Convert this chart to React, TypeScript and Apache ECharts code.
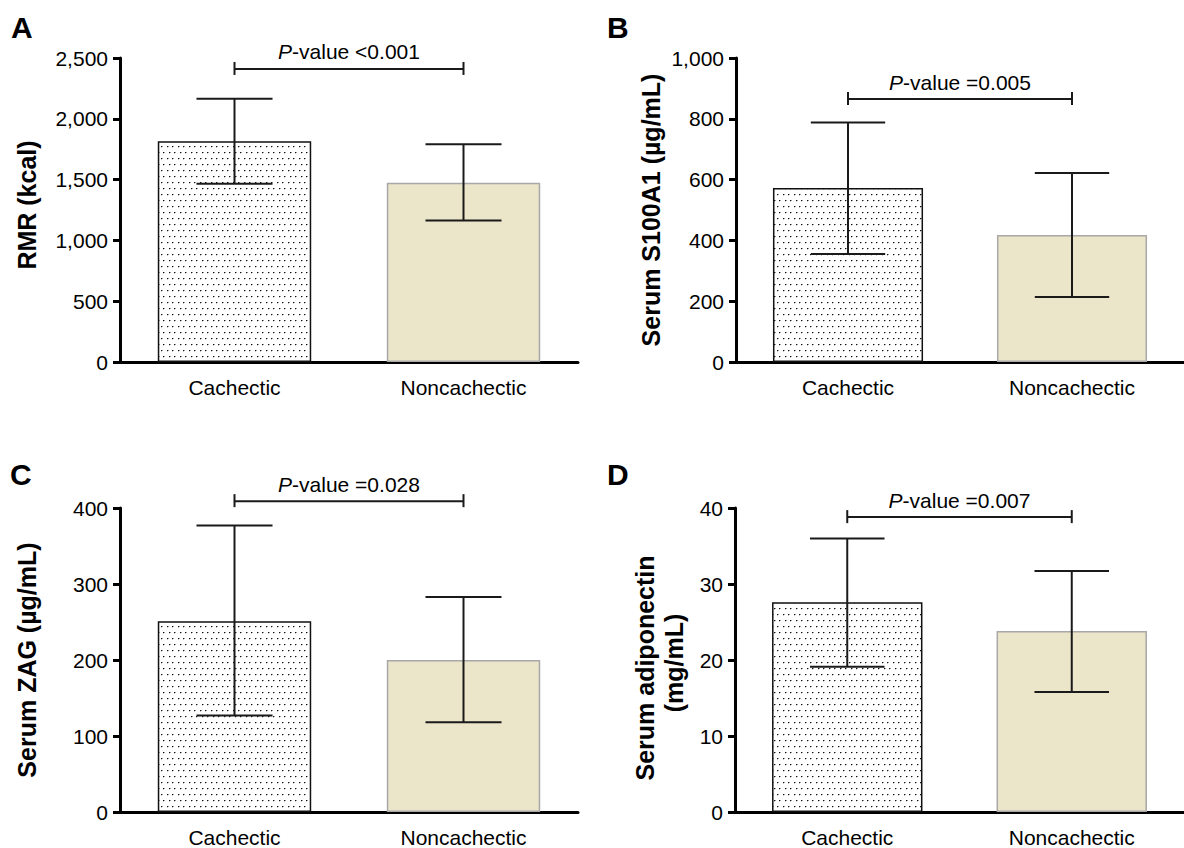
import React, { useEffect, useRef } from "react";
import * as echarts from "echarts";

const categories = ["Cachectic", "Noncachectic"];

const rmrMean = [1815, 1475];
const rmrLow = [1465, 1163];
const rmrHigh = [2165, 1790];

const s100Mean = [572, 418];
const s100Low = [355, 214];
const s100High = [788, 622];

const zagMean = [251, 200];
const zagLow = [127, 118];
const zagHigh = [377, 283];

const adipoMean = [27.6, 23.8];
const adipoLow = [19.1, 15.8];
const adipoHigh = [36.0, 31.7];

const pTexts = ["<0.001", "=0.005", "=0.028", "=0.007"];
const bracketValues = [2410, 865, 409, 38.8];

const yMaxes = [2500, 1000, 400, 40];
const yIntervals = [500, 200, 100, 10];
const panelLetters = ["A", "B", "C", "D"];

const FONT = "'Liberation Sans', Arial, Helvetica, sans-serif";

function makePattern(): HTMLCanvasElement {
  const c = document.createElement("canvas");
  c.width = 11;
  c.height = 12;
  const ctx = c.getContext("2d")!;
  ctx.fillStyle = "#ffffff";
  ctx.fillRect(0, 0, 11, 12);
  const dots = [
    [2, 2],
    [7, 2],
    [4, 8],
    [9, 8],
  ];
  for (const [x, y] of dots) {
    ctx.fillStyle = "#111111";
    ctx.fillRect(x, y, 1, 1);
    ctx.fillStyle = "#9a9a9a";
    ctx.fillRect(x + 1, y, 1, 1);
    ctx.fillStyle = "#c8c8c8";
    ctx.fillRect(x, y + 1, 1, 1);
  }
  return c;
}

export default function App() {
  const ref = useRef<HTMLDivElement>(null);
  useEffect(() => {
    if (!ref.current) return;
    const chart = echarts.init(ref.current, null, { renderer: "svg" });
    const pattern = makePattern();

    const means = [rmrMean, s100Mean, zagMean, adipoMean];
    const lows = [rmrLow, s100Low, zagLow, adipoLow];
    const highs = [rmrHigh, s100High, zagHigh, adipoHigh];

    const grids = [
      { left: 120, top: 58, width: 458, height: 304 },
      { left: 736, top: 58, width: 458, height: 304 },
      { left: 120, top: 508, width: 458, height: 306 },
      { left: 735, top: 508, width: 458, height: 306 },
    ];

    const xAxes = grids.map((_, i) => ({
      type: "category",
      gridIndex: i,
      data: categories,
      axisLine: { lineStyle: { color: "#000", width: 3 } },
      axisTick: { alignWithLabel: true, length: 8, lineStyle: { color: "#000", width: 3 } },
      axisLabel: { color: "#000", fontSize: 21, fontFamily: FONT, margin: 15 },
    }));

    const yAxes = grids.map((_, i) => ({
      type: "value",
      gridIndex: i,
      min: 0,
      max: yMaxes[i],
      interval: yIntervals[i],
      splitLine: { show: false },
      axisLine: { show: true, lineStyle: { color: "#000", width: 3 } },
      axisTick: { show: true, length: 7, lineStyle: { color: "#000", width: 3 } },
      axisLabel: {
        color: "#000",
        fontSize: 21,
        fontFamily: FONT,
        margin: 12,
        formatter: (v: number) => v.toLocaleString("en-US"),
      },
    }));

    const series: any[] = [];
    for (let i = 0; i < 4; i++) {
      series.push({
        type: "bar",
        xAxisIndex: i,
        yAxisIndex: i,
        barWidth: "67%",
        z: 2,
        data: means[i].map((v, k) => ({
          value: v,
          itemStyle:
            k === 0
              ? { color: { image: pattern, repeat: "repeat" }, borderColor: "#111", borderWidth: 1.5 }
              : { color: "#ebe5c9", borderColor: "#a8a8a8", borderWidth: 1.5 },
        })),
      });
      series.push({
        type: "custom",
        xAxisIndex: i,
        yAxisIndex: i,
        z: 5,
        data: categories.map((_, k) => [k, lows[i][k], highs[i][k]]),
        renderItem: (params: any, api: any) => {
          const x = api.value(0);
          const lo = api.coord([x, api.value(1)]);
          const hi = api.coord([x, api.value(2)]);
          const half = api.size([1, 0])[0] * 0.166;
          const st = { stroke: "#1a1a1a", lineWidth: 2 };
          return {
            type: "group",
            children: [
              { type: "line", shape: { x1: lo[0], y1: lo[1], x2: hi[0], y2: hi[1] }, style: st },
              { type: "line", shape: { x1: hi[0] - half, y1: hi[1], x2: hi[0] + half, y2: hi[1] }, style: st },
              { type: "line", shape: { x1: lo[0] - half, y1: lo[1], x2: lo[0] + half, y2: lo[1] }, style: st },
            ],
          };
        },
      });
      const pText = pTexts[i];
      series.push({
        type: "custom",
        xAxisIndex: i,
        yAxisIndex: i,
        z: 5,
        clip: false,
        data: [[0, 1, bracketValues[i]]],
        renderItem: (params: any, api: any) => {
          const a = api.coord([api.value(0), api.value(2)]);
          const b = api.coord([api.value(1), api.value(2)]);
          const st = { stroke: "#1a1a1a", lineWidth: 2 };
          return {
            type: "group",
            children: [
              { type: "line", shape: { x1: a[0], y1: a[1], x2: b[0], y2: b[1] }, style: st },
              { type: "line", shape: { x1: a[0], y1: a[1] - 7, x2: a[0], y2: a[1] + 6 }, style: st },
              { type: "line", shape: { x1: b[0], y1: b[1] - 7, x2: b[0], y2: b[1] + 6 }, style: st },
              {
                type: "text",
                x: (a[0] + b[0]) / 2,
                y: a[1] - 17,
                style: {
                  text: "{i|P}-value " + pText,
                  rich: { i: { fontStyle: "italic", fontSize: 21, fontFamily: FONT, fill: "#000" } },
                  fontSize: 21,
                  fontFamily: FONT,
                  fill: "#000",
                  align: "center",
                  verticalAlign: "middle",
                },
              },
            ],
          };
        },
      });
    }

    const titleStyle = { fontSize: 25, fontWeight: "bold", fontFamily: FONT, fill: "#000", align: "center", verticalAlign: "middle" };
    const letterStyle = { fontSize: 30, fontWeight: "bold", fontFamily: FONT, fill: "#000", align: "left", verticalAlign: "middle" };
    const letterPos = [
      [11, 27],
      [607, 27],
      [10, 474],
      [607, 474],
    ];

    const graphic: any[] = [
      { type: "text", x: 27, y: 205, rotation: Math.PI / 2, style: { ...titleStyle, text: "RMR (kcal)" } },
      { type: "text", x: 651, y: 210, rotation: Math.PI / 2, style: { ...titleStyle, text: "Serum S100A1 (µg/mL)" } },
      { type: "text", x: 27, y: 660, rotation: Math.PI / 2, style: { ...titleStyle, text: "Serum ZAG (µg/mL)" } },
      { type: "text", x: 645, y: 668, rotation: Math.PI / 2, style: { ...titleStyle, text: "Serum adiponectin" } },
      { type: "text", x: 674, y: 663, rotation: Math.PI / 2, style: { ...titleStyle, text: "(mg/mL)" } },
      ...panelLetters.map((t, i) => ({
        type: "text",
        x: letterPos[i][0],
        y: letterPos[i][1],
        style: { ...letterStyle, text: t },
      })),
    ];

    chart.setOption({
      animation: false,
      backgroundColor: "#ffffff",
      grid: grids,
      xAxis: xAxes,
      yAxis: yAxes,
      series,
      graphic,
    });
    return () => chart.dispose();
  }, []);

  return (
    <div
      ref={ref}
      style={{ position: "absolute", left: 0, top: 0, width: 1184, height: 848, background: "#fff" }}
    />
  );
}
